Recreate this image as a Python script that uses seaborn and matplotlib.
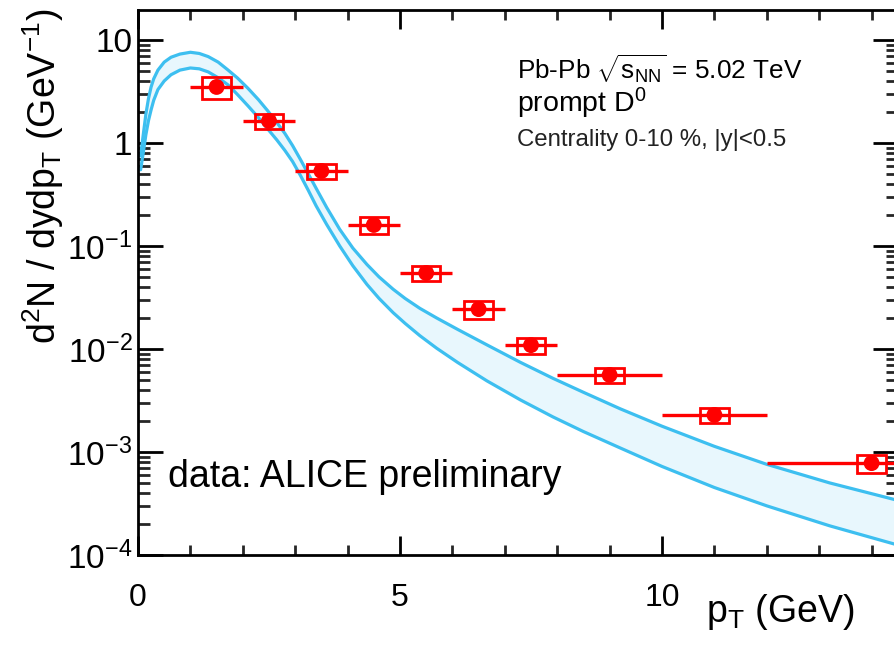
import numpy as np
import pandas as pd
import matplotlib
matplotlib.use("Agg")
import matplotlib.pyplot as plt
import seaborn as sns
from matplotlib.patches import Rectangle
from matplotlib.ticker import MultipleLocator, FixedLocator, FixedFormatter, LogLocator, NullFormatter

# ---- data: ALICE prompt D0, Pb-Pb 0-10% ----
pt_center = [1.5, 2.5, 3.5, 4.5, 5.5, 6.5, 7.5, 9.0, 11.0, 14.0]
pt_low = [1, 2, 3, 4, 5, 6, 7, 8, 10, 12]
pt_high = [2, 3, 4, 5, 6, 7, 8, 10, 12, 16]
yield_val = [3.5, 1.64, 0.535, 0.16, 0.0547, 0.0244, 0.0109, 0.0056, 0.00229, 0.00078]
sys_rel = [0.24, 0.17, 0.16, 0.19, 0.17, 0.19, 0.18, 0.17, 0.17, 0.19]
box_halfwidth = 0.27

# ---- model band ----
model_pt = [0.05, 0.1, 0.15, 0.2, 0.25, 0.3, 0.38, 0.5, 0.63, 0.8, 1.0, 1.17, 1.34, 1.53, 1.72,
            1.9, 2.1, 2.3, 2.48, 2.65, 2.8, 2.95, 3.1, 3.25, 3.4, 3.6, 3.85, 4.1, 4.37, 4.6,
            4.87, 5.1, 5.38, 5.7, 6.1, 6.66, 7.3, 7.92, 8.5, 9.2, 10.0, 11.0, 12.0, 13.2, 14.5]
model_upper = [0.75, 1.2, 1.9, 2.7, 3.5, 4.2, 5.1, 6.1, 6.8, 7.3, 7.6, 7.4, 6.9, 6.1, 5.1,
               4.27, 3.39, 2.63, 2.04, 1.58, 1.245, 0.944, 0.692, 0.501, 0.363, 0.237, 0.145, 0.0955, 0.0661, 0.0501,
               0.0380, 0.0309, 0.0248, 0.0200, 0.0155, 0.01096, 0.00741, 0.00519, 0.0038, 0.00263, 0.00178, 0.001135,
               0.000759, 0.000501, 0.000339]
model_lower = [0.55, 0.8, 1.2, 1.65, 2.1, 2.6, 3.3, 4.0, 4.6, 5.1, 5.35, 5.25, 4.9, 4.3, 3.66,
               2.95, 2.29, 1.76, 1.36, 1.07, 0.851, 0.661, 0.484, 0.347, 0.245, 0.162, 0.100, 0.0643, 0.0423, 0.031,
               0.0225, 0.01768, 0.01346, 0.01017, 0.0074, 0.0049, 0.0032, 0.00219, 0.00158, 0.001096, 0.000724, 0.000452,
               0.0003, 0.000192, 0.000125]

yticks = [1e-4, 1e-3, 1e-2, 1e-1, 1, 10]
ytick_labels = [r"$10^{-4}$", r"$10^{-3}$", r"$10^{-2}$", r"$10^{-1}$", "1", "10"]
xticks = [0, 5, 10]
xtick_labels = ["0", "5", "10"]

sns.set_theme(style="ticks")
plt.rcParams['font.family'] = ['Liberation Sans', 'DejaVu Sans']
plt.rcParams['mathtext.fontset'] = 'custom'
plt.rcParams['mathtext.rm'] = 'Liberation Sans'
plt.rcParams['mathtext.it'] = 'Liberation Sans:italic'
plt.rcParams['mathtext.bf'] = 'Liberation Sans:bold'
plt.rcParams['mathtext.default'] = 'regular'

RED = "#FF0000"
BLUE = "#3DBFF0"
FILL = "#E8F7FD"

fig = plt.figure(figsize=(8.95, 6.45), dpi=100)
W, H = 895, 645
ax_l, ax_r, ax_t, ax_b = 138, 898, 10, 555
ax = fig.add_axes([ax_l / W, (H - ax_b) / H, (ax_r - ax_l) / W, (ax_b - ax_t) / H])
ax.set_facecolor("white")

band = pd.DataFrame({"pt": model_pt, "upper": model_upper, "lower": model_lower})
ax.fill_between(band["pt"], band["lower"], band["upper"], color=FILL, lw=0, zorder=1)
sns.lineplot(data=band, x="pt", y="upper", color=BLUE, lw=2.3, ax=ax, zorder=2, sort=False)
sns.lineplot(data=band, x="pt", y="lower", color=BLUE, lw=2.3, ax=ax, zorder=2, sort=False)

pts = pd.DataFrame({"pt": pt_center, "y": yield_val, "lo": pt_low, "hi": pt_high, "sys": sys_rel})
ax.hlines(pts["y"], pts["lo"], pts["hi"], color=RED, lw=2.4, zorder=4)
for c, v, s in zip(pt_center, yield_val, sys_rel):
    ax.add_patch(Rectangle((c - box_halfwidth, v * (1 - s)), 2 * box_halfwidth,
                           v * (1 + s) - v * (1 - s), fill=False, edgecolor=RED,
                           lw=2.0, zorder=5))
sns.scatterplot(data=pts, x="pt", y="y", color=RED, s=130, marker="o",
                edgecolor="none", linewidth=0, ax=ax, zorder=6)

ax.set_yscale("log")
ax.set_xlim(0, (ax_r - ax_l) / 52.4)
ax.set_ylim(1e-4, 10 ** (1 + 30 / 103.0))

ax.yaxis.set_major_locator(FixedLocator(yticks))
ax.yaxis.set_major_formatter(FixedFormatter(ytick_labels))
ax.yaxis.set_minor_locator(LogLocator(base=10, subs=np.arange(2, 10)))
ax.yaxis.set_minor_formatter(NullFormatter())
ax.xaxis.set_major_locator(FixedLocator(xticks))
ax.xaxis.set_major_formatter(FixedFormatter(xtick_labels))
ax.xaxis.set_minor_locator(MultipleLocator(1))

ax.tick_params(axis="y", which="major", direction="in", length=18, width=2.0,
               left=True, right=True, labelsize=24, pad=4, color="black", labelcolor="black")
ax.tick_params(axis="y", which="minor", direction="in", length=8.5, width=2.0,
               left=True, right=True)
ax.tick_params(axis="x", which="major", direction="in", length=14, width=2.0,
               bottom=True, top=True, labelsize=23, pad=20, color="black", labelcolor="black")
ax.tick_params(axis="x", which="minor", direction="in", length=7, width=2.0,
               bottom=True, top=True)
for side in ["left", "bottom", "top", "right"]:
    ax.spines[side].set_linewidth(2.0)
    ax.spines[side].set_color("black")

ax.set_ylabel(r"d$^{2}$N / dydp$_{\mathrm{T}}$ (GeV$^{-1}$)", fontsize=27, color="black", loc="top")
ax.yaxis.set_label_coords((66 - ax_l) / (ax_r - ax_l), 1 + 2 / (ax_b - ax_t))
ax.set_xlabel(r"p$_{\mathrm{T}}$ (GeV)", fontsize=27, color="black", ha="right", va="baseline")
ax.xaxis.set_label_coords((855 - ax_l) / (ax_r - ax_l), (ax_b - 622) / (ax_b - ax_t))

def fx(px):
    return (px - ax_l) / (ax_r - ax_l)

def fy(py):
    return (ax_b - py) / (ax_b - ax_t)

ax.text(fx(517), fy(80), r"Pb-Pb $\sqrt{s_{\mathrm{NN}}}$ = 5.02 TeV", transform=ax.transAxes,
        fontsize=18.8, ha="left", va="baseline", color="black")
ax.text(fx(517), fy(112), r"prompt D$^{0}$", transform=ax.transAxes,
        fontsize=20.5, ha="left", va="baseline", color="black")
ax.text(fx(517), fy(146), "Centrality 0-10 %, |y|<0.5", transform=ax.transAxes,
        fontsize=17.3, ha="left", va="baseline", color="#222222")
ax.text(fx(168), fy(487), "data: ALICE preliminary", transform=ax.transAxes,
        fontsize=27, ha="left", va="baseline", color="black")

fig.savefig("out.png", dpi=100, facecolor="white")
